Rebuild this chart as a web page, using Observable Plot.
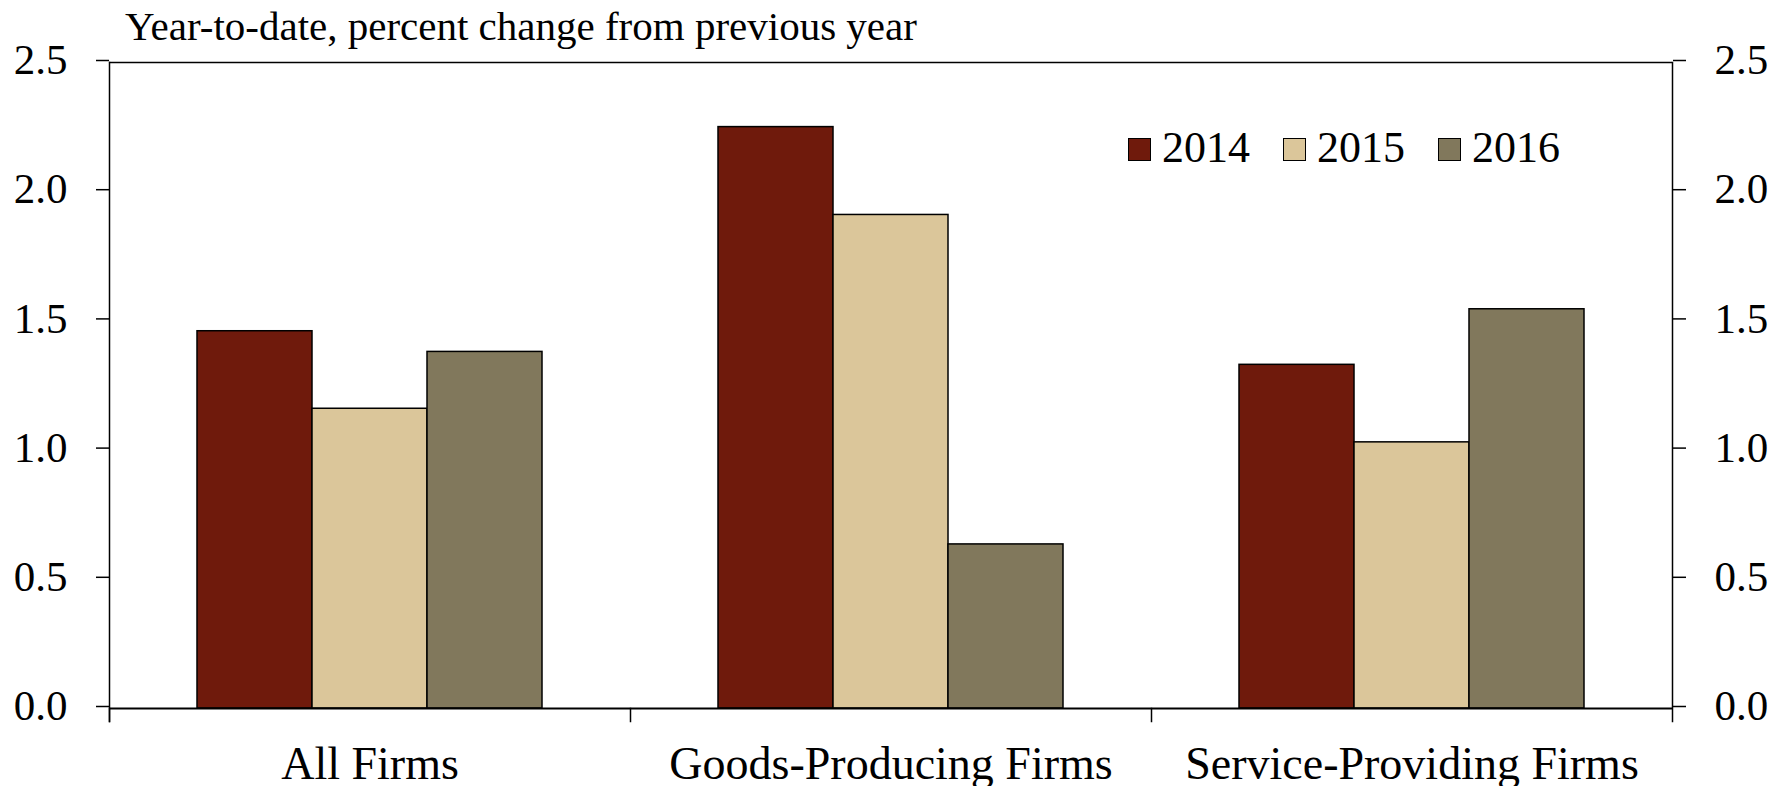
<!DOCTYPE html>
<html><head><meta charset="utf-8">
<script src="https://cdn.jsdelivr.net/npm/d3@7"></script>
<script src="https://cdn.jsdelivr.net/npm/@observablehq/plot@0.6"></script>
<style>
body{margin:0;background:#fff;}
#wrap{position:relative;width:1787px;height:786px;font-family:"Liberation Serif",serif;color:#000;}
#title{position:absolute;left:125px;top:6px;font-size:41px;line-height:40px;white-space:nowrap;}
.sw{position:absolute;width:23px;height:23px;border:1.5px solid #000;box-sizing:border-box;}
.lt{position:absolute;font-size:44px;line-height:44px;white-space:nowrap;}
#chart{position:absolute;left:0;top:0;}
</style></head><body>
<div id="wrap"><div id="chart"></div><div id="title">Year-to-date, percent change from previous year</div><div id="legend"></div></div>
<script>
const categories = ["All Firms", "Goods-Producing Firms", "Service-Providing Firms"];
const years = ["2014", "2015", "2016"];
const values2014 = [1.46, 2.25, 1.33];
const values2015 = [1.16, 1.91, 1.03];
const values2016 = [1.38, 0.635, 1.545];
const colors = ["#6f1a0c", "#dbc69a", "#81785c"];
const yTicks = [0, 0.5, 1.0, 1.5, 2.0, 2.5];

const series = [values2014, values2015, values2016];
const data = categories.flatMap((c, i) => years.map((y, j) => ({category: c, year: y, value: series[j][i]})));

const W = 1787, H = 786, mt = 62, mb = 78, ml = 108, mr = 114, tick = 13;
const innerH = H - mt - mb;

const chart = Plot.plot({
  width: W, height: H,
  marginTop: mt, marginBottom: mb, marginLeft: ml, marginRight: mr,
  style: {fontFamily: "Liberation Serif, serif", fontSize: "43px", color: "#000", background: "transparent", overflow: "visible"},
  fx: {domain: categories, padding: 0, label: null, axis: null},
  x: {domain: years, paddingInner: 0, paddingOuter: 0.76, axis: null},
  y: {domain: [0, 2.5], axis: null},
  color: {domain: years, range: colors},
  marks: [
    Plot.barY(data, {fx: "category", x: "year", y: "value", fill: "year", stroke: "#000", strokeWidth: 1.5}),
    Plot.ruleY([0], {stroke: "#000", strokeWidth: 2}),
    Plot.ruleY([2.5], {stroke: "#000", strokeWidth: 1.5}),
    Plot.frame({anchor: "left", facetAnchor: "left", insetBottom: -tick, stroke: "#000", strokeWidth: 1.5}),
    Plot.frame({anchor: "right", facetAnchor: "right", insetBottom: -tick, stroke: "#000", strokeWidth: 1.5}),
    Plot.frame({anchor: "left", insetTop: innerH, insetBottom: -tick, stroke: "#000", strokeWidth: 1.5}),
    Plot.axisY({anchor: "left", ticks: yTicks, tickFormat: d3.format(".1f"), tickSize: tick, tickPadding: 29, label: null, stroke: "#000", strokeWidth: 1.5, fontSize: 43, dy: -2}),
    Plot.axisY({anchor: "right", ticks: yTicks, tickFormat: d3.format(".1f"), tickSize: tick, tickPadding: 29, label: null, stroke: "#000", strokeWidth: 1.5, fontSize: 43, dy: -2}),
    Plot.axisFx({anchor: "bottom", tickSize: 0, tickPadding: 38, fontSize: 46, label: null})
  ]
});
document.getElementById("chart").appendChild(chart);

const legend = document.getElementById("legend");
const legendLeft = 1128, legendStep = 155;
years.forEach((y, i) => {
  const sw = document.createElement("div");
  sw.className = "sw";
  sw.style.left = (legendLeft + i * legendStep) + "px";
  sw.style.top = "138px";
  sw.style.background = colors[i];
  legend.appendChild(sw);
  const t = document.createElement("div");
  t.className = "lt";
  t.textContent = y;
  t.style.left = (legendLeft + i * legendStep + 34) + "px";
  t.style.top = "126px";
  legend.appendChild(t);
});
</script>
</body></html>
